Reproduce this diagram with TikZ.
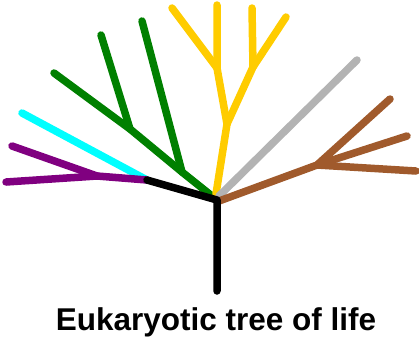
\documentclass[tikz,border=0pt]{standalone}
\usepackage{fontspec}
\setmainfont{Liberation Sans}
\definecolor{tgreen}{RGB}{0,128,0}
\definecolor{tcyan}{RGB}{0,255,255}
\definecolor{tpurple}{RGB}{128,0,128}
\definecolor{tyellow}{RGB}{255,204,0}
\definecolor{tgray}{RGB}{179,179,179}
\definecolor{tbrown}{RGB}{160,90,44}
\begin{document}
\begin{tikzpicture}[x=1pt,y=-1pt,
  br/.style={line width=7.5pt,line cap=round,line join=round}]
\useasboundingbox (0,0) rectangle (419,341);
% coordinates
\coordinate (root) at (217,200);
\coordinate (base) at (217,291);
\coordinate (left) at (147,180);
% green
\coordinate (g0) at (212,196);
\coordinate (g1) at (182,172);
\coordinate (g2) at (130,129);
\coordinate (gt) at (54,73);
\coordinate (gu1) at (101,35);
\coordinate (gu2) at (142,21);
% yellow
\coordinate (y0) at (216,194);
\coordinate (y1) at (227,124);
\coordinate (y2) at (217,68);
\coordinate (y3) at (253,67);
\coordinate (ya) at (172,8);
\coordinate (yb) at (217,5);
\coordinate (yc) at (252,8);
\coordinate (yd) at (286,17);
% gray
\coordinate (gr0) at (219,196);
\coordinate (grt) at (357,60);
% brown
\coordinate (b0) at (219,201);
\coordinate (b1) at (317,165);
\coordinate (ba) at (390,99);
\coordinate (bb) at (407,136);
\coordinate (bc) at (416,171);
% cyan / purple
\coordinate (ct) at (22,113);
\coordinate (p1) at (97,176);
\coordinate (pa) at (12,146);
\coordinate (pb) at (6,182);

\draw[br,tgreen] (g0) -- (g1) -- (g2) -- (gt);
\draw[br,tgreen] (g2) -- (gu1);
\draw[br,tgreen] (g1) -- (gu2);
\draw[br,tyellow] (y0) -- (y1) -- (y2) -- (yb);
\draw[br,tyellow] (y2) -- (ya);
\draw[br,tyellow] (y1) -- (y3) -- (yc);
\draw[br,tyellow] (y3) -- (yd);
\draw[br,tgray] (gr0) -- (grt);
\draw[br,tbrown] (b0) -- (b1) -- (ba);
\draw[br,tbrown] (b1) -- (bb);
\draw[br,tbrown] (b1) -- (bc);
\draw[br,tcyan] (left) -- (ct);
\draw[br,tpurple] (left) -- (p1) -- (pb);
\draw[br,tpurple] (p1) -- (pa);
\draw[br,black] (base) -- (root) -- (left);
\node[anchor=base,font=\fontsize{31.5}{35}\selectfont\bfseries,inner sep=0pt] (title) at (216,330) {Eukaryotic tree of life};
\end{tikzpicture}
\end{document}
